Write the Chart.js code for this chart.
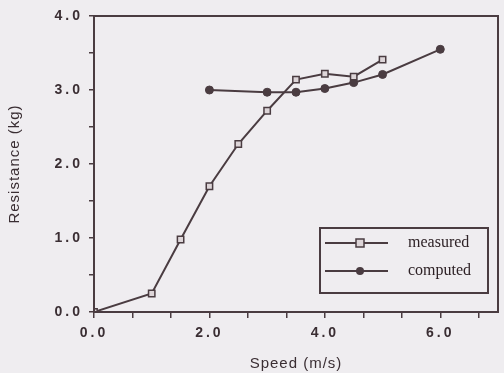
<!DOCTYPE html>
<html>
<head>
<meta charset="utf-8">
<script src="https://cdn.jsdelivr.net/npm/chart.js@4"></script>
<style>
html,body{margin:0;padding:0;background:#efedf0;}
#wrap{width:504px;height:373px;position:relative;}
</style>
</head>
<body>
<div id="wrap"><canvas id="c" width="504" height="373"></canvas></div>
<script>
const measuredSpeed = [0.0, 1.0, 1.5, 2.0, 2.5, 3.0, 3.5, 4.0, 4.5, 5.0];
const measuredRes   = [0.0, 0.25, 0.98, 1.70, 2.27, 2.72, 3.14, 3.22, 3.18, 3.41];
const computedSpeed = [2.0, 3.0, 3.5, 4.0, 4.5, 5.0, 6.0];
const computedRes   = [3.00, 2.97, 2.97, 3.02, 3.10, 3.21, 3.55];
const xTickValues = [0, 2/3, 4/3, 2, 8/3, 10/3, 4, 14/3, 16/3, 6, 20/3];
const xTickLabels = {0: '0.0', 2: '2.0', 4: '4.0', 6: '6.0'};
const yTickValues = [0, 0.5, 1, 1.5, 2, 2.5, 3, 3.5, 4];
const yTickLabels = {0: '0.0', 1: '1.0', 2: '2.0', 3: '3.0', 4: '4.0'};

const ink = '#4a3c41';
const textInk = '#3a2e33';

function pts(xs, ys){ return xs.map((x,i)=>({x:x, y:ys[i]})); }

function patchSpacing(s){
  if (s._spacingPatched) return;
  s._spacingPatched = true;
  const oL = s.drawLabels, oT = s.drawTitle;
  s.drawLabels = function(){ const c = this.ctx; const p = c.letterSpacing; c.letterSpacing = '3px'; oL.apply(this, arguments); c.letterSpacing = p || '0px'; };
  s.drawTitle = function(){ const c = this.ctx; const p = c.letterSpacing; c.letterSpacing = '1px'; oT.apply(this, arguments); c.letterSpacing = p || '0px'; };
}

const framePlugin = {
  id: 'frame',
  afterDatasetsDraw(chart){
    const {ctx, chartArea:a} = chart;
    ctx.save();
    ctx.strokeStyle = ink;
    ctx.lineWidth = 2;
    ctx.strokeRect(a.left, a.top, a.right - a.left, a.bottom - a.top);
    ctx.restore();
  }
};

const legendPlugin = {
  id: 'boxLegend',
  afterDraw(chart){
    const ctx = chart.ctx;
    const x0 = 320, y0 = 228, w = 168, h = 65;
    ctx.save();
    ctx.fillStyle = '#efedf0';
    ctx.fillRect(x0, y0, w, h);
    ctx.strokeStyle = ink;
    ctx.lineWidth = 2;
    ctx.strokeRect(x0, y0, w, h);
    const rows = [y0 + 15, y0 + 43];
    chart.data.datasets.forEach((ds, i) => {
      const yy = rows[i];
      ctx.strokeStyle = ink;
      ctx.lineWidth = 2;
      ctx.beginPath();
      ctx.moveTo(x0 + 5, yy);
      ctx.lineTo(x0 + 68, yy);
      ctx.stroke();
      const mx = x0 + 40;
      if (ds.pointStyle === 'rect') {
        ctx.fillStyle = ds.pointBackgroundColor;
        ctx.fillRect(mx - 4, yy - 4, 8, 8);
        ctx.lineWidth = 1.5;
        ctx.strokeRect(mx - 4, yy - 4, 8, 8);
      } else {
        ctx.fillStyle = ink;
        ctx.beginPath();
        ctx.arc(mx, yy, 4, 0, Math.PI * 2);
        ctx.fill();
      }
      ctx.fillStyle = '#2e2226';
      ctx.font = '16px "Liberation Serif", serif';
      ctx.textBaseline = 'middle';
      ctx.textAlign = 'left';
      ctx.fillText(ds.label, x0 + 88, yy);
    });
    ctx.restore();
  }
};

new Chart(document.getElementById('c'), {
  type: 'line',
  data: {
    datasets: [
      {
        label: 'measured',
        data: pts(measuredSpeed, measuredRes),
        borderColor: ink,
        borderWidth: 2,
        pointStyle: 'rect',
        pointRadius: 4.5,
        pointBackgroundColor: '#ddd5d8',
        pointBorderColor: ink,
        pointBorderWidth: 1.5,
        tension: 0
      },
      {
        label: 'computed',
        data: pts(computedSpeed, computedRes),
        borderColor: ink,
        borderWidth: 2,
        pointStyle: 'circle',
        pointRadius: 4,
        pointBackgroundColor: ink,
        pointBorderColor: ink,
        pointBorderWidth: 1,
        tension: 0
      }
    ]
  },
  options: {
    responsive: false,
    animation: false,
    layout: { padding: { top: 16, right: 1, left: 0, bottom: 0 } },
    plugins: { legend: { display: false }, tooltip: { enabled: false } },
    scales: {
      x: {
        type: 'linear',
        min: 0, max: 7,
        afterFit(s){ s.height = 61; patchSpacing(s); },
        afterBuildTicks(s){ s.ticks = xTickValues.map(v => ({value: v})); },
        border: { display: true, color: ink, width: 2 },
        grid: { drawOnChartArea: false, drawTicks: true, tickLength: 6, color: ink, lineWidth: 1.5 },
        ticks: {
          autoSkip: false, maxRotation: 0, padding: 7,
          color: textInk,
          font: { family: '"Liberation Sans", Arial, sans-serif', size: 14, weight: 'bold' },
          callback: (v) => { const k = Math.round(v); return Math.abs(v - k) < 1e-6 && xTickLabels[k] !== undefined ? xTickLabels[k] : ''; }
        },
        title: {
          display: true, text: 'Speed (m/s)',
          color: textInk,
          font: { family: '"Liberation Sans", Arial, sans-serif', size: 15 },
          padding: { top: 3, bottom: 0 }
        }
      },
      y: {
        type: 'linear',
        min: 0, max: 4,
        afterFit(s){ s.width = 94; patchSpacing(s); },
        afterBuildTicks(s){ s.ticks = yTickValues.map(v => ({value: v})); },
        border: { display: true, color: ink, width: 2 },
        grid: { drawOnChartArea: false, drawTicks: true, tickLength: 5, color: ink, lineWidth: 1.5 },
        ticks: {
          autoSkip: false, padding: 6,
          color: textInk,
          font: { family: '"Liberation Sans", Arial, sans-serif', size: 14, weight: 'bold' },
          callback: (v) => { const k = Math.round(v); return Math.abs(v - k) < 1e-6 && yTickLabels[k] !== undefined ? yTickLabels[k] : ''; }
        },
        title: {
          display: true, text: 'Resistance (kg)',
          color: textInk,
          font: { family: '"Liberation Sans", Arial, sans-serif', size: 15 },
          padding: { top: 6, bottom: 0 }
        }
      }
    }
  },
  plugins: [framePlugin, legendPlugin]
});
</script>
</body>
</html>
